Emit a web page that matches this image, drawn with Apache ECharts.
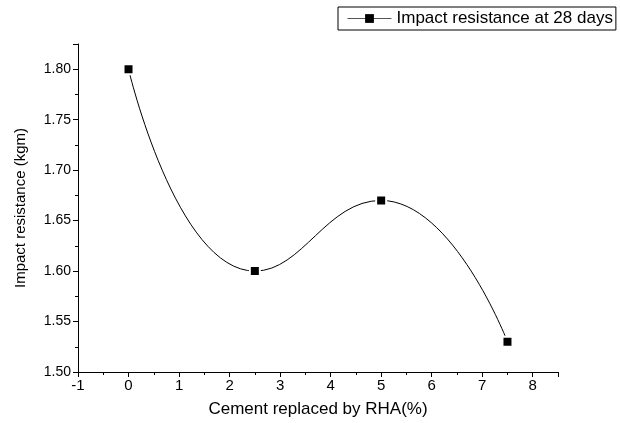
<!DOCTYPE html>
<html>
<head>
<meta charset="utf-8">
<script src="https://cdn.jsdelivr.net/npm/echarts@6/dist/echarts.min.js"></script>
<style>html,body{margin:0;padding:0;background:#fff}#c{width:620px;height:423px}</style>
</head>
<body>
<div id="c"></div>
<script>
const xValues = [0, 2.5, 5, 7.5];
const impact28 = [1.80, 1.60, 1.67, 1.53];
const seriesName = 'Impact resistance at 28 days';
const xAxisTitle = 'Cement replaced by RHA(%)';
const yAxisTitle = 'Impact resistance (kgm)';

const font = 'Liberation Sans, Arial, sans-serif';
const chart = echarts.init(document.getElementById('c'), null, {renderer: 'canvas'});
chart.setOption({
  animation: false,
  backgroundColor: '#fff',
  grid: {left: 78, right: 62, top: 44, bottom: 51, containLabel: false},
  legend: {
    left: 338, top: 7,
    data: [seriesName],
    borderColor: '#000', borderWidth: 1,
    padding: [3, 3, 3, 9],
    itemWidth: 44, itemHeight: 11,
    itemStyle: {borderWidth: 0},
    lineStyle: {color: '#555', width: 1},
    textStyle: {fontFamily: font, fontSize: 17, color: '#000'}
  },
  xAxis: {
    type: 'value', min: -1, max: 8.5, interval: 1,
    name: xAxisTitle, nameLocation: 'middle', nameGap: 29,
    nameTextStyle: {fontFamily: font, fontSize: 17, color: '#000'},
    axisLine: {show: true, onZero: false, lineStyle: {color: '#000', width: 1}},
    axisTick: {show: true, length: 5, lineStyle: {color: '#000'}},
    minorTick: {show: true, splitNumber: 2, length: 3, lineStyle: {color: '#000'}},
    splitLine: {show: false},
    axisLabel: {fontFamily: font, fontSize: 15, color: '#000', margin: 6, showMaxLabel: false,
      formatter: v => String(v)}
  },
  yAxis: {
    type: 'value', min: 1.5, max: 1.825, interval: 0.05,
    name: yAxisTitle, nameLocation: 'middle', nameGap: 50,
    nameTextStyle: {fontFamily: font, fontSize: 15, color: '#000'},
    axisLine: {show: true, onZero: false, lineStyle: {color: '#000', width: 1}},
    axisTick: {show: true, length: 5, lineStyle: {color: '#000'}},
    minorTick: {show: true, splitNumber: 2, length: 3, lineStyle: {color: '#000'}},
    splitLine: {show: false},
    axisLabel: {fontFamily: font, fontSize: 14, color: '#000', margin: 7, showMaxLabel: false,
      formatter: v => v.toFixed(2)}
  },
  series: [{
    name: seriesName,
    type: 'line',
    data: xValues.map((x, i) => [x, impact28[i]]),
    smooth: 0.5,
    symbol: 'rect', symbolSize: 10,
    lineStyle: {color: '#000', width: 1},
    itemStyle: {color: '#000', borderColor: '#fff', borderWidth: 2}
  }]
});
</script>
</body>
</html>
